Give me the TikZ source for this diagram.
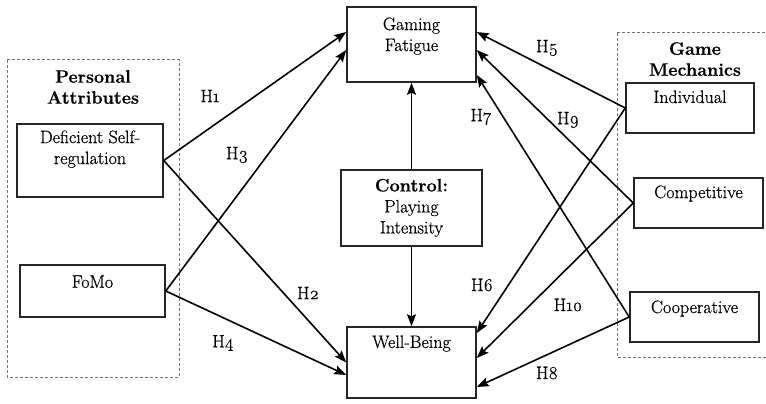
\documentclass[tikz,border=0pt]{standalone}
\usepackage{fontspec}
\setmainfont{Latin Modern Roman}[FakeBold=0.6]
\newfontfamily\hypfont{Latin Modern Roman}[Numbers=OldStyle, FakeBold=0.6]
\usetikzlibrary{arrows.meta}
\begin{document}
\begin{tikzpicture}[x=1pt,y=-1pt,
  font=\fontsize{18}{21}\selectfont,
  box/.style={draw=black!85, line width=1.5pt, rectangle, inner sep=0pt},
  group/.style={draw=black!55, line width=1pt, densely dashed},
  boxlabel/.style={anchor=north, inner sep=0pt, align=center},
  link/.style={line width=1.6pt, -{Stealth[length=12pt,width=9pt,inset=2pt]}},
  hyp/.style={inner sep=1pt, font=\fontsize{18}{21}\selectfont\hypfont}
]
\useasboundingbox (0,0) rectangle (766,404);
\fill[white] (0,0) rectangle (766,404);
\clip (0,0) rectangle (766,404);

% dashed groupings
\draw[group] (7,60) rectangle (179,377);
\draw[group] (617,33) rectangle (772,357);
\node[boxlabel, font=\fontsize{18}{21}\selectfont\bfseries] (pa) at (93,70) {Personal\\Attributes};
\node[boxlabel, font=\fontsize{18}{21}\selectfont\bfseries] (gm) at (695,42) {Game\\Mechanics};

% construct boxes
\node[box, minimum width=146pt, minimum height=73pt,
  label={[boxlabel, yshift=-7pt]north:Deficient Self-\\regulation}] (dsr) at (90,160.5) {};
\node[box, minimum width=145pt, minimum height=52pt,
  label={[boxlabel, yshift=-11pt]north:FoMo}] (fomo) at (92.5,291) {};
\node[box, minimum width=129pt, minimum height=75pt,
  label={[boxlabel, yshift=-11pt]north:Gaming\\Fatigue}] (gf) at (411.5,44.5) {};
\node[box, minimum width=141pt, minimum height=76pt, align=center] (ctrl) at (411.5,208)
  {\textbf{Control:}\\Playing\\Intensity};
\node[box, minimum width=129pt, minimum height=71pt,
  label={[boxlabel, yshift=-9pt]north:Well-Being}] (wb) at (411.5,362.5) {};
\node[box, minimum width=128pt, minimum height=50pt,
  label={[boxlabel, yshift=-8pt]north:Individual}] (ind) at (690,108) {};
\node[box, minimum width=129pt, minimum height=50pt,
  label={[boxlabel, yshift=-8pt]north:Competitive}] (comp) at (698.5,203) {};
\node[box, minimum width=129pt, minimum height=50pt,
  label={[boxlabel, yshift=-9pt]north:Cooperative}] (coop) at (694.5,317) {};

% control variable
\draw[link] (ctrl.north) -- (gf.south);
\draw[link] (ctrl.south) -- (wb.north);

% personal attributes
\draw[link] (dsr.east) -- ([yshift=12.5pt]gf.west);
\draw[link] (dsr.east) -- (wb.west);
\draw[link] (fomo.east) -- ([yshift=-5.5pt]gf.west);
\draw[link] (fomo.east) -- ([yshift=-12.5pt]wb.west);

% game mechanics
\draw[link] (ind.west) -- ([yshift=12.5pt]gf.east);
\draw[link] (ind.west) -- ([yshift=29.5pt]wb.east);
\draw[link] (comp.west) -- ([yshift=-5.5pt]gf.east);
\draw[link] (comp.west) -- ([yshift=4.5pt]wb.east);
\draw[link] (coop.west) -- ([yshift=-30.5pt]gf.east);
\draw[link] (coop.west) -- ([yshift=-24.5pt]wb.east);

% hypothesis labels
\node[hyp] (h1) at (210,96) {H1};
\node[hyp] (h2) at (308,293) {H2};
\node[hyp] (h3) at (237,155) {H3};
\node[hyp] (h4) at (223,343) {H4};
\node[hyp] (h5) at (547,48) {H5};
\node[hyp] (h6) at (482,285) {H6};
\node[hyp] (h7) at (481,117) {H7};
\node[hyp] (h8) at (547,373) {H8};
\node[hyp] (h9) at (568,120) {H9};
\node[hyp] (h10) at (568,305) {H10};
\end{tikzpicture}
\end{document}
